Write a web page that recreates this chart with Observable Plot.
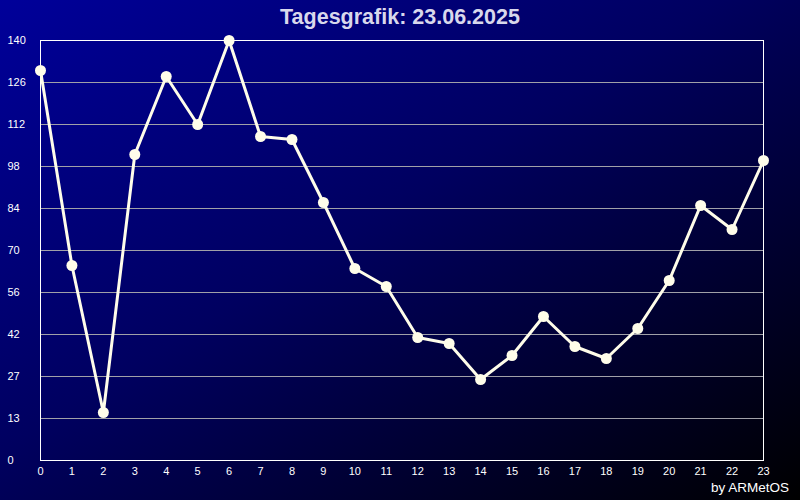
<!DOCTYPE html>
<html><head><meta charset="utf-8">
<script src="https://cdn.jsdelivr.net/npm/d3@7"></script>
<script src="https://cdn.jsdelivr.net/npm/@observablehq/plot@0.6"></script>
<style>
body{margin:0;background:#000;}
#wrap{position:relative;width:800px;height:500px;background:linear-gradient(to bottom right,#00009a 0%,#000060 45%,#000000 100%);overflow:hidden;font-family:"Liberation Sans",Arial,sans-serif;}
#title{position:absolute;top:4px;left:0;width:800px;text-align:center;font-weight:bold;font-size:21.5px;color:#d8d8ec;line-height:26px;}
#credit{position:absolute;right:11px;top:480px;font-size:13.5px;color:#fff;line-height:16px;}
#chart{position:absolute;left:0;top:0;}
</style></head>
<body>
<div id="wrap">
<div id="chart"></div>
<div id="title">Tagesgrafik: 23.06.2025</div>
<div id="credit">by ARMetOS</div>
</div>
<script>
const hours = [0,1,2,3,4,5,6,7,8,9,10,11,12,13,14,15,16,17,18,19,20,21,22,23];
const values = [130,65,16,102,128,112,140,108,107,86,64,58,41,39,27,35,48,38,34,44,60,85,77,100];
const yTicks = [0,14,28,42,56,70,84,98,112,126,140];
const yTickLabels = ["0","13","27","42","56","70","84","98","112","126","140"];
const gridTicks = yTicks.filter(v => v > 0 && v < 140);

const data = hours.map((h, i) => ({h, v: values[i]}));

const chart = Plot.plot({
  width: 800,
  height: 500,
  marginTop: 40,
  marginBottom: 40,
  marginLeft: 40,
  marginRight: 37,
  style: {background: "transparent", color: "#ffffff", fontFamily: "'Liberation Sans', Arial, sans-serif", fontSize: "11px", overflow: "visible"},
  x: {domain: [0, 23]},
  y: {domain: [0, 140]},
  marks: [
    Plot.ruleY(gridTicks, {stroke: "#a0a0a8", strokeWidth: 1}),
    Plot.frame({stroke: "#ffffff", strokeWidth: 1}),
    Plot.axisX({ticks: hours, tickSize: 0, tickPadding: 7, label: null, tickFormat: d => String(d), fill: "#ffffff"}),
    Plot.axisY({ticks: yTicks, tickSize: 0, tickPadding: 0, textAnchor: "start", dx: -33, label: null, tickFormat: d => yTickLabels[yTicks.indexOf(d)], fill: "#ffffff"}),
    Plot.line(data, {x: "h", y: "v", stroke: "#fffdea", strokeWidth: 3}),
    Plot.dot(data, {x: "h", y: "v", r: 5.5, fill: "#fffdea", stroke: "none"})
  ]
});
document.getElementById("chart").appendChild(chart);
</script>
</body></html>
